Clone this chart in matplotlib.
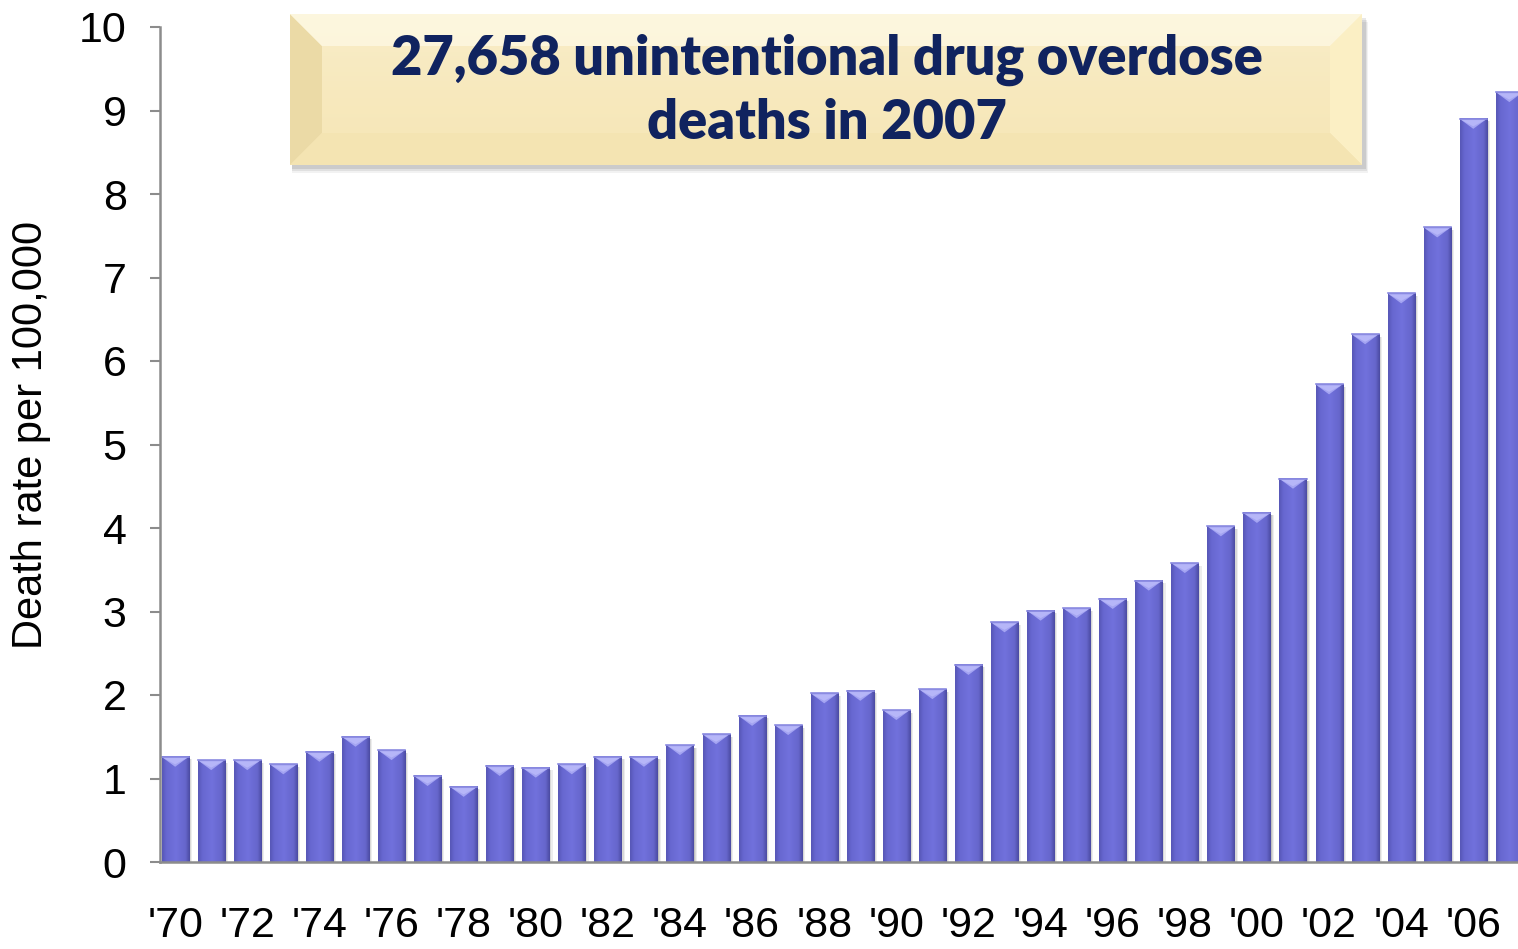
import matplotlib.pyplot as plt
import numpy as np
from matplotlib.colors import LinearSegmentedColormap
from matplotlib.patches import Polygon, Rectangle

# unintentional drug overdose death rate per 100,000, 1970-2007
years = list(range(1970, 2008))
rates = [1.26, 1.22, 1.22, 1.17, 1.32, 1.50, 1.34, 1.03, 0.90, 1.15,
         1.13, 1.17, 1.26, 1.26, 1.40, 1.53, 1.75, 1.64, 2.02, 2.05,
         1.82, 2.07, 2.36, 2.87, 3.01, 3.04, 3.15, 3.37, 3.58, 4.02,
         4.18, 4.59, 5.72, 6.32, 6.81, 7.60, 8.90, 9.22]
tick_years = list(range(1970, 2007, 2))
tick_labels = ["'%02d" % (y % 100) for y in tick_years]
headline = "27,658 unintentional drug overdose\ndeaths in 2007"

W, H = 1518, 949
fig = plt.figure(figsize=(W / 100, H / 100), dpi=100)
ax = fig.add_axes([160 / W, 1 - 862 / H, 1 - 160 / W, (862 - 27) / H])

bar_w = 0.75
bar_cmap = LinearSegmentedColormap.from_list(
    "bar", [(0, "#5757b6"), (0.15, "#6767d0"), (0.5, "#7171dc"),
            (0.85, "#6666cc"), (1, "#4b4ba2")])
grad = np.linspace(0, 1, 64).reshape(1, -1)
px_per_unit = (862 - 27) / 10.0
bevel = 10 / px_per_unit

for x, v in zip(years, rates):
    l, r = x - bar_w / 2, x + bar_w / 2
    # soft drop shadow
    for k, a in [(0.09, 0.10), (0.06, 0.14), (0.03, 0.18)]:
        ax.add_patch(Rectangle((l + k, -0.05), bar_w, v + 0.02, color="#555555",
                               alpha=a, lw=0, zorder=1))
    ax.imshow(grad, cmap=bar_cmap, aspect="auto", extent=(l, r, 0, v),
              interpolation="bilinear", zorder=2)
    # bevelled top
    ax.add_patch(Polygon([(l, v), (r, v), (x, v - bevel)], closed=True,
                         color="#a4a4f2", lw=0, zorder=3))
    ax.add_patch(Polygon([(l + 0.05, v - 0.015), (r - 0.05, v - 0.015),
                          (x, v - bevel * 0.75)], closed=True,
                         color="#b6b6f8", lw=0, zorder=3))
    ax.plot([l, r], [v, v], color="#8a8ae0", lw=1.2, zorder=4)

ax.set_xlim(1969.58, 2007.24)
ax.set_ylim(0, 10)
ax.set_yticks(range(0, 11))
ax.set_xticks(tick_years)
ax.set_xticklabels(tick_labels)
for s in ["top", "right"]:
    ax.spines[s].set_visible(False)
for s in ["left", "bottom"]:
    ax.spines[s].set_color("#8c8c8c")
    ax.spines[s].set_linewidth(1.8)
    ax.spines[s].set_zorder(5)
ax.tick_params(axis="y", length=7, width=1.5, color="#8c8c8c", pad=17,
               labelsize=31)
ax.tick_params(axis="x", length=0, pad=32, labelsize=31)
for t in ax.get_xticklabels() + ax.get_yticklabels():
    t.set_fontfamily("Liberation Sans")
fig.text(31 / W, 1 - 435 / H, "Death rate per 100,000", rotation=90,
         ha="center", va="center", fontsize=30, family="Liberation Sans")

# headline box with bevelled edges
x0, x1, y0, y1 = 290, 1362, H - 165, H - 14
bv = 32
fx = lambda p: p / W
fy = lambda p: p / H
for k, a in [(8, 0.05), (6, 0.07), (4, 0.09)]:
    fig.patches.append(Rectangle((fx(x0 + 2), fy(y0 - k)), fx(x1 - x0 + k / 2),
                                 fy(y1 - y0), color="#000000", alpha=a, lw=0,
                                 transform=fig.transFigure, zorder=1))
box_ax = fig.add_axes([fx(x0), fy(y0), fx(x1 - x0), fy(y1 - y0)])
box_ax.set_zorder(10)
box_ax.set_axis_off()
box_ax.set_xlim(x0, x1)
box_ax.set_ylim(y0, y1)
face = LinearSegmentedColormap.from_list("face", ["#f5e3b0", "#f8ebc2", "#fcf6dc"])
box_ax.imshow(np.linspace(0, 1, 64).reshape(-1, 1), cmap=face, origin="lower",
              aspect="auto", extent=(x0, x1, y0, y1), interpolation="bilinear")
box_ax.add_patch(Polygon([(x0, y0), (x0 + bv, y0 + bv), (x0 + bv, y1 - bv), (x0, y1)],
                         color="#ebdaa6", lw=0))
box_ax.add_patch(Polygon([(x0, y1), (x0 + bv, y1 - bv), (x1 - bv, y1 - bv), (x1, y1)],
                         color="#fdf7df", lw=0, alpha=0.8))
box_ax.add_patch(Polygon([(x1, y0), (x1 - bv, y0 + bv), (x1 - bv, y1 - bv), (x1, y1)],
                         color="#fbefc4", lw=0))
box_ax.add_patch(Polygon([(x0, y0), (x0 + bv, y0 + bv), (x1 - bv, y0 + bv), (x1, y0)],
                         color="#f4e4b2", lw=0))
box_ax.add_patch(Rectangle((x0 + bv, y0 + bv), x1 - x0 - 2 * bv, y1 - y0 - 2 * bv,
                           color="#f7e8bb", lw=0, alpha=0.6))
box_ax.text((x0 + x1) / 2 + 1, H - 91, headline, ha="center", va="center",
            fontsize=39, fontweight="heavy", family="Lato", color="#10235f",
            linespacing=1.28)

fig.savefig("out.png", dpi=100)
